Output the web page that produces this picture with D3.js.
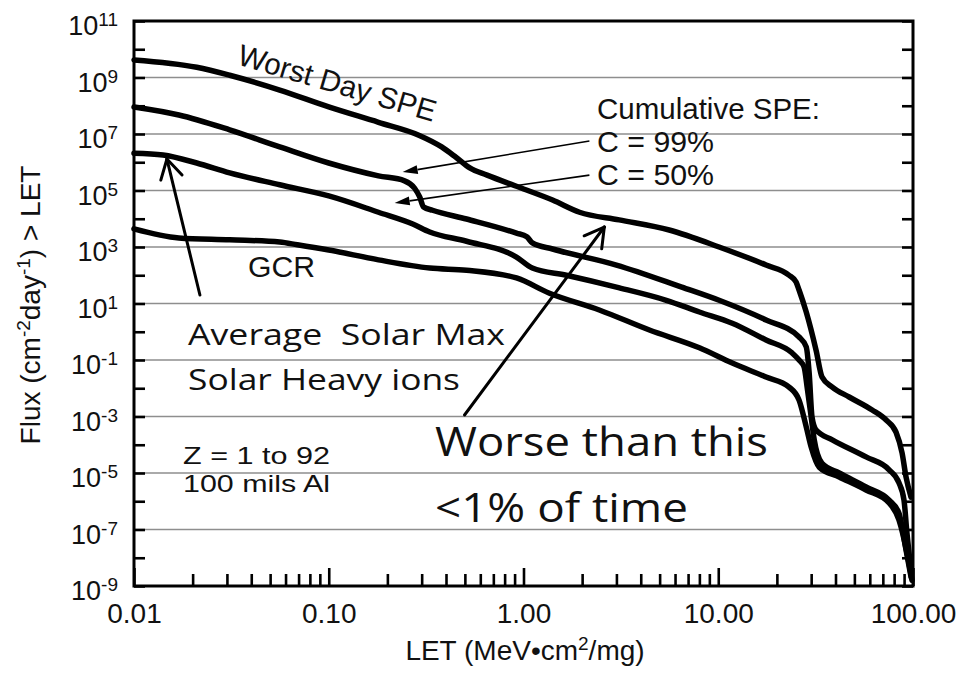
<!DOCTYPE html>
<html>
<head>
<meta charset="utf-8">
<script src="https://cdn.jsdelivr.net/npm/d3@7"></script>
<style>
  html, body { margin: 0; padding: 0; background: #fff; }
  svg text { font-family: "Liberation Sans", Arial, Helvetica, sans-serif; fill: #111; }
  .callout { font-family: "Open Sans", "Noto Sans", sans-serif !important; white-space: pre; }
</style>
</head>
<body>
<div id="chart"></div>
<script>
// integral LET spectra, 100 mils Al
// LET in MeV cm2/mg, flux in cm-2 day-1 above that LET
let worstLET  = [0.01, 0.021, 0.031, 0.056, 0.10, 0.18, 0.29, 0.38, 0.45, 0.53, 0.65, 0.95, 1.41, 1.94, 3.1, 5.6, 10.1, 17.6, 23.1, 25.1, 26.0, 28.3, 31.8, 34.1, 38.5, 47, 61.7, 72.8, 81.8, 87.9, 92.1, 97.7]
let worstFlux = [4.2e9, 2.3e9, 1.2e9, 3.6e8, 9.1e7, 2.6e7, 9.1e6, 3.5e6, 1.5e6, 6.3e5, 3.5e5, 1.3e5, 4.6e4, 1.7e4, 9.1e3, 4.0e3, 1.0e3, 2.3e2, 1.0e2, 58, 30, 5.0, 0.22, 0.025, 0.011, 4.9e-3, 1.7e-3, 7.5e-4, 2.8e-4, 5.1e-5, 7.2e-6, 1.4e-6]

let c99LET  = [0.01, 0.017, 0.031, 0.056, 0.10, 0.18, 0.245, 0.276, 0.293, 0.307, 0.341, 0.51, 0.92, 1.04, 1.11, 1.41, 3.0, 6.5, 10.1, 17.6, 26.0, 28.3, 29.3, 30.3, 31.8, 38.5, 57.4, 75.4, 84.7, 89.9, 93.1, 97.7]
let c99Flux = [9.0e7, 4.7e7, 1.4e7, 3.5e6, 9.4e5, 3.3e5, 2.2e5, 1.2e5, 5.9e4, 2.6e4, 2.0e4, 9.8e3, 3.1e3, 2.3e3, 1.4e3, 8.5e2, 2.3e2, 38, 13, 2.6, 0.65, 0.29, 0.035, 9.6e-4, 3.3e-4, 1.5e-4, 3.7e-5, 1.3e-5, 4.5e-6, 1.1e-6, 7.5e-8, 3.7e-9]

let c50LET  = [0.01, 0.0141, 0.021, 0.031, 0.056, 0.10, 0.18, 0.27, 0.33, 0.51, 0.92, 1.11, 1.66, 3.0, 5.41, 8.0, 11.8, 17.6, 23.9, 26.0, 27.6, 28.6, 30.0, 31.1, 34.1, 41.8, 57.4, 75.4, 84.7, 92.1, 97.7]
let c50Flux = [2.1e6, 1.8e6, 9.4e5, 4.2e5, 1.6e5, 6.4e4, 1.7e4, 6.5e3, 3.4e3, 1.6e3, 4.4e2, 1.8e2, 1.0e2, 38, 13, 5.0, 2.0, 0.51, 0.18, 0.10, 0.056, 0.011, 9.6e-4, 1.5e-4, 2.2e-5, 1.0e-5, 3.2e-6, 1.1e-6, 3.8e-7, 1.9e-8, 2.1e-9]

let gcrLET  = [0.01, 0.017, 0.031, 0.056, 0.069, 0.10, 0.18, 0.33, 0.51, 0.92, 1.36, 2.45, 4.43, 8.0, 11.8, 17.6, 23.1, 26.0, 28.3, 30.0, 33.0, 41.8, 57.4, 75.4, 84.7, 93.1, 98.8]
let gcrFlux = [4.4e3, 2.1e3, 1.8e3, 1.5e3, 1.2e3, 7.8e2, 3.5e2, 1.8e2, 1.5e2, 80, 23, 5.9, 1.15, 0.27, 0.078, 0.025, 0.011, 3.8e-3, 4.3e-4, 8.3e-5, 1.6e-5, 7.2e-6, 2.5e-6, 8.7e-7, 2.2e-7, 1.5e-8, 1.6e-9]

let xTickValues = [0.01, 0.1, 1, 10, 100]
let xTickLabels = ['0.01', '0.10', '1.00', '10.00', '100.00']
let yLabelExponents = [11, 9, 7, 5, 3, 1, -1, -3, -5, -7, -9]
let yGridExponents = [9, 7, 5, 3, 1, -1, -3, -5, -7]

// arrows given as [LET, flux] of tail and tip
let arrowSolarMax = [[0.0218, 20], [0.01476, 1.3e6]]
let arrowWorse = [[0.498, 1.13e-3], [2.60, 5.1e3]]
let arrowC99 = [[2.18, 5.65e6], [0.2396, 4.5e5]]
let arrowC50 = [[2.18, 3.5e5], [0.218, 3.6e4]]

let w = 961,
    h = 686

let x = d3.scaleLog().domain([0.01, 100]).range([134, 913])
let y = d3.scaleLog().domain([1e-9, 1e11]).range([586, 21])

let svg = d3.select('#chart')
    .append('svg')
    .attr('width', w)
    .attr('height', h)

// gridlines
svg.append('g')
    .selectAll('line')
    .data(yGridExponents)
    .enter()
    .append('line')
    .attr('x1', x(0.01))
    .attr('x2', x(100))
    .attr('y1', d => y(Math.pow(10, d)))
    .attr('y2', d => y(Math.pow(10, d)))
    .attr('stroke', '#8e8e8e')
    .attr('stroke-width', 1.6)

// x axis: minor + major ticks pointing inward
let minorX = []
for (let dec = 0.01; dec < 50; dec *= 10) {
    for (let m = 2; m <= 9; m++) minorX.push(dec * m)
}
let xMinor = svg.append('g')
    .attr('transform', `translate(0,${y(1e-9)})`)
    .call(d3.axisBottom(x).tickValues(minorX).tickSize(-12).tickFormat(''))
let xMajor = svg.append('g')
    .attr('transform', `translate(0,${y(1e-9)})`)
    .call(d3.axisBottom(x).tickValues(xTickValues).tickSize(-18).tickPadding(17)
        .tickFormat((d, i) => xTickLabels[i]))
xMajor.selectAll('text')
    .attr('font-size', 28)
    .attr('font-family', '"Liberation Sans", Arial, sans-serif')
    .attr('fill', '#111')

// y ticks on both sides
let yTicks = d3.range(-9, 12).map(e => Math.pow(10, e))
let yLeft = svg.append('g')
    .attr('transform', `translate(${x(0.01)},0)`)
    .call(d3.axisLeft(y).tickValues(yTicks).tickSize(-11).tickFormat(''))
let yRight = svg.append('g')
    .attr('transform', `translate(${x(100)},0)`)
    .call(d3.axisRight(y).tickValues(yTicks).tickSize(-11).tickFormat(''))

svg.selectAll('.domain').remove()
svg.selectAll('.tick line')
    .attr('stroke', '#000')
    .attr('stroke-width', 2.6)

// frame
svg.append('rect')
    .attr('x', x(0.01))
    .attr('y', y(1e11))
    .attr('width', x(100) - x(0.01))
    .attr('height', y(1e-9) - y(1e11))
    .attr('fill', 'none')
    .attr('stroke', '#000')
    .attr('stroke-width', 3)

// y tick labels with superscript exponent
let yLab = svg.append('g')
    .selectAll('text')
    .data(yLabelExponents)
    .enter()
    .append('text')
    .attr('x', 118)
    .attr('y', d => y(Math.pow(10, d)) + 14)
    .attr('text-anchor', 'end')
    .attr('font-size', 27)
yLab.append('tspan').text('10')
yLab.append('tspan')
    .attr('font-size', 19)
    .attr('dy', -9)
    .text(d => String(d))

// axis titles
let xt = svg.append('text')
    .attr('x', 525)
    .attr('y', 660)
    .attr('text-anchor', 'middle')
    .attr('font-size', 28)
xt.append('tspan').text('LET (MeV\u2022cm')
xt.append('tspan').attr('font-size', 19).attr('dy', -10).text('2')
xt.append('tspan').attr('dy', 10).text('/mg)')

let yt = svg.append('text')
    .attr('transform', 'translate(40,305) rotate(-90)')
    .attr('text-anchor', 'middle')
    .attr('font-size', 28)
yt.append('tspan').text('Flux (cm')
yt.append('tspan').attr('font-size', 19).attr('dy', -10).text('-2')
yt.append('tspan').attr('dy', 10).text('day')
yt.append('tspan').attr('font-size', 19).attr('dy', -10).text('-1')
yt.append('tspan').attr('dy', 10).text(') > LET')

// curves
let series = [
    {lets: worstLET, flux: worstFlux},
    {lets: c99LET, flux: c99Flux},
    {lets: c50LET, flux: c50Flux},
    {lets: gcrLET, flux: gcrFlux}
]
let line = d3.line()
    .x(d => x(d[0]))
    .y(d => y(d[1]))
    .curve(d3.curveMonotoneX)

svg.append('g')
    .selectAll('path')
    .data(series)
    .enter()
    .append('path')
    .attr('d', s => line(s.lets.map((v, i) => [v, s.flux[i]])))
    .attr('fill', 'none')
    .attr('stroke', '#000')
    .attr('stroke-width', 5.5)
    .attr('stroke-linejoin', 'round')
    .attr('stroke-linecap', 'round')

// labels
let addText = (txt, px, py, size, len, cls) => {
    let t = svg.append('text')
        .attr('x', px)
        .attr('y', py)
        .attr('font-size', size)
        .text(txt)
    if (len) t.attr('textLength', len).attr('lengthAdjust', 'spacingAndGlyphs')
    if (cls) t.attr('class', cls)
    return t
}
addText('Worst Day SPE', 0, 0, 30, 205)
    .attr('transform', 'translate(236,64) rotate(16.4)')
addText('Cumulative SPE:', 597, 119, 30, 223)
addText('C = 99%', 597, 152, 30, 117)
addText('C = 50%', 597, 185, 30, 117)
addText('GCR', 248, 277, 30, 67)
addText('Z = 1 to 92', 183, 464, 24, 147)
addText('100 mils Al', 183, 492, 24, 147)
addText('Average  Solar Max', 188, 345, 29, 317, 'callout')
addText('Solar Heavy ions', 188, 390, 29, 272, 'callout')
addText('Worse than this', 435, 456, 40, 333, 'callout')
addText('<1% of time', 435, 522, 40, 253, 'callout')

// arrows
let openArrow = (a, sw) => {
    let [x0, y0] = [x(a[0][0]), y(a[0][1])]
    let [x1, y1] = [x(a[1][0]), y(a[1][1])]
    let ang = Math.atan2(y0 - y1, x0 - x1)
    let g = svg.append('g').attr('stroke', '#000').attr('stroke-width', sw)
        .attr('stroke-linecap', 'round').attr('fill', 'none')
    g.append('line').attr('x1', x0).attr('y1', y0).attr('x2', x1).attr('y2', y1)
    let armLen = 22
    ;[-0.52, 0.52].forEach(da => {
        g.append('line')
            .attr('x1', x1).attr('y1', y1)
            .attr('x2', x1 + armLen * Math.cos(ang + da))
            .attr('y2', y1 + armLen * Math.sin(ang + da))
    })
}
let thinArrow = a => {
    let [x0, y0] = [x(a[0][0]), y(a[0][1])]
    let [x1, y1] = [x(a[1][0]), y(a[1][1])]
    let ang = Math.atan2(y0 - y1, x0 - x1)
    let len = 15, hw = 4.5
    let bx = x1 + len * Math.cos(ang), by = y1 + len * Math.sin(ang)
    svg.append('line')
        .attr('x1', x0).attr('y1', y0).attr('x2', bx).attr('y2', by)
        .attr('stroke', '#000').attr('stroke-width', 1.6)
    svg.append('polygon')
        .attr('points', [
            [x1, y1],
            [bx + hw * Math.sin(ang), by - hw * Math.cos(ang)],
            [bx - hw * Math.sin(ang), by + hw * Math.cos(ang)]
        ].map(p => p.join(',')).join(' '))
        .attr('fill', '#000')
}
openArrow(arrowSolarMax, 3)
openArrow(arrowWorse, 3)
thinArrow(arrowC99)
thinArrow(arrowC50)
</script>
</body>
</html>
